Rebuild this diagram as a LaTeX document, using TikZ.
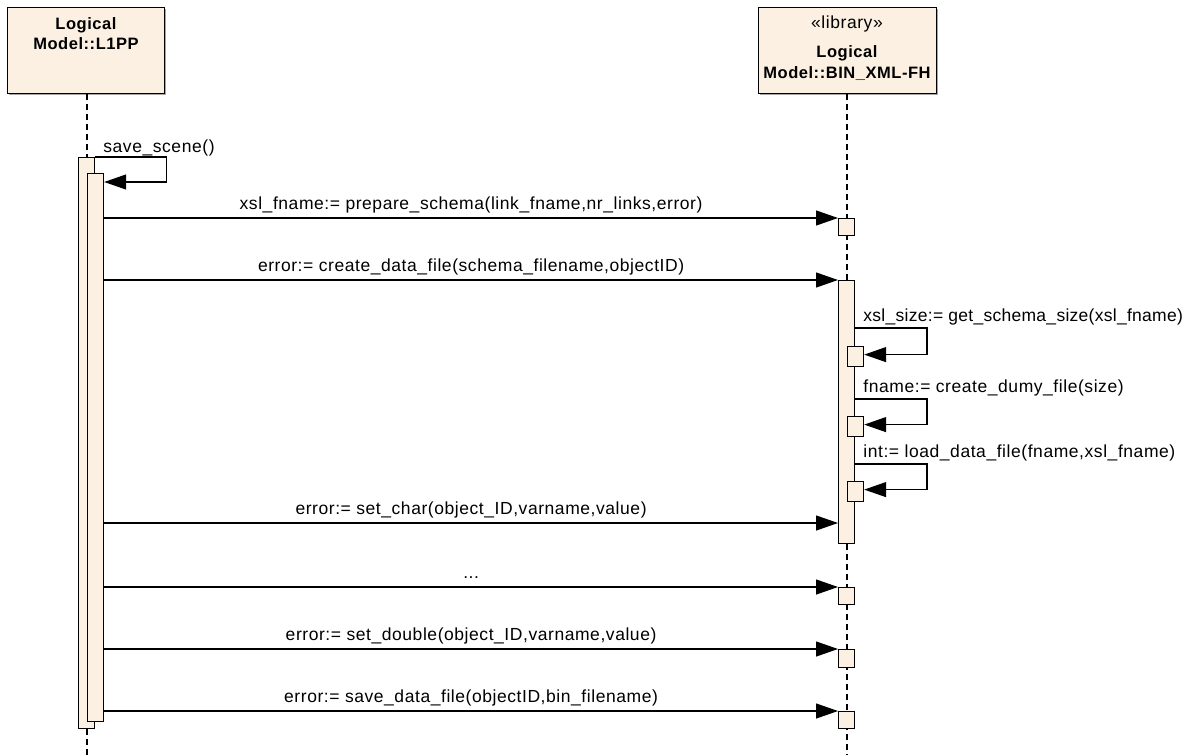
\documentclass[tikz,border=0pt]{standalone}
\usepackage{fontspec}
\setmainfont{Liberation Sans}
\newfontfamily\msgfont[LetterSpace=3.2]{Liberation Sans}
\newfontfamily\msgfonttight[LetterSpace=1.6]{Liberation Sans}
\newfontfamily\hdrfont[LetterSpace=3.3]{Liberation Sans Bold}
\usetikzlibrary{arrows.meta,shadows}
\definecolor{umlfill}{HTML}{FBF0E2}
\tikzset{
  hdrbox/.style={draw=black, line width=1.2pt, fill=umlfill, rectangle, inner sep=0pt,
    drop shadow={shadow xshift=1.5pt, shadow yshift=-1.5pt, fill=black!35, opacity=1}},
  hdrtxt/.style={font=\hdrfont\fontsize{16.5}{18}\selectfont, anchor=base, inner sep=0pt},
  sttxt/.style={font=\msgfont\fontsize{17.5}{19}\selectfont, anchor=base, inner sep=0pt},
  actbox/.style={draw=black, line width=1.2pt, fill=umlfill, rectangle, inner sep=0pt, anchor=north west},
  life/.style={line width=1.3pt, dash pattern=on 6pt off 4pt},
  msg/.style={line width=1.2pt, -{Triangle[length=22pt,width=15pt]}},
  mlbl/.style={font=\msgfont\fontsize{17.5}{19}\selectfont, pos=0.5, anchor=base, yshift=9pt, inner sep=0pt},
  slbl/.style={font=\msgfont\fontsize{17.5}{19}\selectfont, anchor=base west, inner sep=0pt},
}
\begin{document}
\begin{tikzpicture}[x=1pt,y=-1pt]
\useasboundingbox (0,0) rectangle (1191,755);
% headers
\node[hdrbox, minimum width=157pt, minimum height=86pt, anchor=north west] (L) at (7,7) {};
\node[hdrtxt] (Lt1) at (86,29) {Logical};
\node[hdrtxt] (Lt2) at (86,49.5) {Model::L1PP};
\node[hdrbox, minimum width=178pt, minimum height=86pt, anchor=north west] (R) at (758,7) {};
\node[sttxt] (Rt0) at (847,28) {«library»};
\node[hdrtxt] (Rt1) at (847,57) {Logical};
\node[hdrtxt] (Rt2) at (847,78) {Model::BIN\_XML-FH};
% bottom ends of lifelines
\coordinate (Lend) at (87,755);
\coordinate (Rend) at (847,755);
% right lifeline
\draw[life] (R.south -| Rend) -- (Rend);
% left activations
\node[actbox, minimum width=16pt, minimum height=571pt] (a1) at (78,157) {};
\node[actbox, minimum width=16pt, minimum height=548pt] (a2) at (87,173) {};
\draw[life] (L.south -| Lend) -- (a1.north -| Lend);
\draw[life] (a1.south -| Lend) -- (Lend);
% right activations
\node[actbox, minimum width=16pt, minimum height=17pt] (b1) at (838,218) {};
\node[actbox, minimum width=16pt, minimum height=263pt] (B) at (838,280) {};
\node[actbox, minimum width=16pt, minimum height=20pt] (s1) at (847,346) {};
\node[actbox, minimum width=16pt, minimum height=20pt] (s2) at (847,416) {};
\node[actbox, minimum width=16pt, minimum height=20pt] (s3) at (847,481) {};
\node[actbox, minimum width=16pt, minimum height=17pt] (b2) at (838,587) {};
\node[actbox, minimum width=16pt, minimum height=18pt] (b3) at (838,649) {};
\node[actbox, minimum width=16pt, minimum height=17pt] (b4) at (838,711) {};
% self call save_scene
\coordinate (sc) at (166.5,182);
\draw[msg] (a1.north east) -| (sc) -- (a2.east |- sc);
\node[slbl] (scl) at ([xshift=8pt,yshift=5pt]a1.north east) {save\_scene()};
% messages
\draw[msg] (a2.east |- b1.north) -- (b1.north west)
  node[mlbl] (m1) {xsl\_fname:= prepare\_schema(link\_fname,nr\_links,error)};
\draw[msg] (a2.east |- B.north) -- (B.north west)
  node[mlbl] (m2) {error:= create\_data\_file(schema\_filename,objectID)};
\coordinate (y3) at (0,523);
\draw[msg] (a2.east |- y3) -- (B.west |- y3)
  node[mlbl] (m3) {error:= set\_char(object\_ID,varname,value)};
\draw[msg] (a2.east |- b2.north) -- (b2.north west)
  node[mlbl] (m4) {...};
\draw[msg] (a2.east |- b3.north) -- (b3.north west)
  node[mlbl] (m5) {error:= set\_double(object\_ID,varname,value)};
\draw[msg] (a2.east |- b4.north) -- (b4.north west)
  node[mlbl] (m6) {error:= save\_data\_file(objectID,bin\_filename)};
% right self calls
\coordinate (c1) at (927,328);
\coordinate (c2) at (927,399);
\coordinate (c3) at (927,464);
\draw[msg] (B.east |- c1) -- (c1) |- ([yshift=2pt]s1.east);
\node[slbl, font=\msgfonttight\fontsize{17.5}{19}\selectfont] (l1) at ([xshift=8pt,yshift=6.5pt]B.east |- c1) {xsl\_size:= get\_schema\_size(xsl\_fname)};
\draw[msg] (B.east |- c2) -- (c2) |- ([yshift=2pt]s2.east);
\node[slbl] (l2) at ([xshift=8pt,yshift=6.5pt]B.east |- c2) {fname:= create\_dumy\_file(size)};
\draw[msg] (B.east |- c3) -- (c3) |- ([yshift=2pt]s3.east);
\node[slbl] (l3) at ([xshift=8pt,yshift=6.5pt]B.east |- c3) {int:= load\_data\_file(fname,xsl\_fname)};
\end{tikzpicture}
\end{document}
